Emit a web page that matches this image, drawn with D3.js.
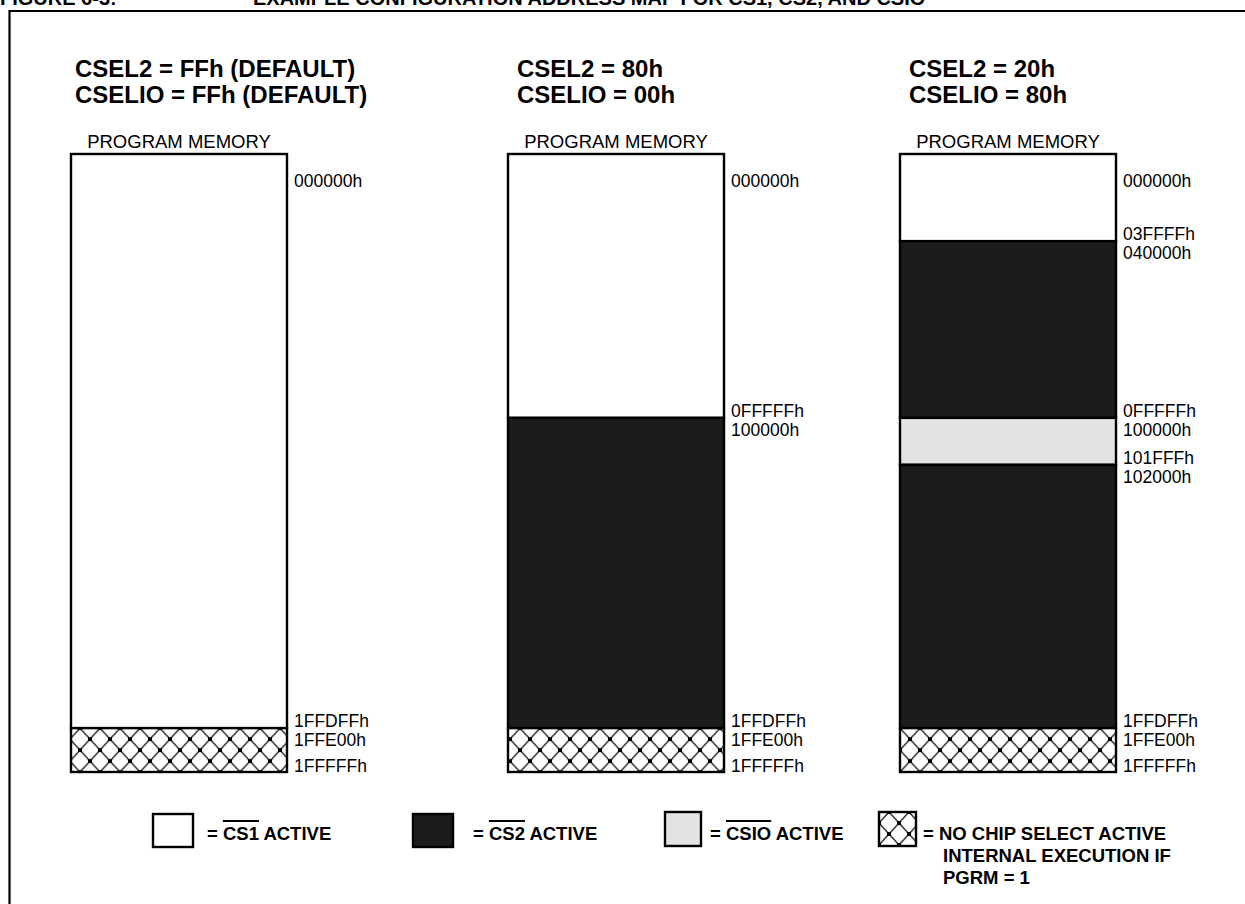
<!DOCTYPE html>
<html>
<head>
<meta charset="utf-8">
<script src="https://cdn.jsdelivr.net/npm/d3@7"></script>
<style>
  html, body { margin: 0; padding: 0; background: #fff; }
  svg { display: block; font-family: "Liberation Sans", Arial, sans-serif; }
</style>
</head>
<body>
<svg id="chart" width="1245" height="904"></svg>
<script>
// ---- data ----
var titleText = "FIGURE 6-3:";
var captionText = "EXAMPLE CONFIGURATION ADDRESS MAP FOR CS1, CS2, AND CSIO";

var headings = [
	["CSEL2 = FFh (DEFAULT)", "CSELIO = FFh (DEFAULT)"],
	["CSEL2 = 80h", "CSELIO = 00h"],
	["CSEL2 = 20h", "CSELIO = 80h"]
];

// address segments per column: [start, end (exclusive), chip select]
var mapDefault = [
	[0x000000, 0x1FFE00, "cs1"],
	[0x1FFE00, 0x200000, "none"]
];
var map80 = [
	[0x000000, 0x100000, "cs1"],
	[0x100000, 0x1FFE00, "cs2"],
	[0x1FFE00, 0x200000, "none"]
];
var map20 = [
	[0x000000, 0x040000, "cs1"],
	[0x040000, 0x100000, "cs2"],
	[0x100000, 0x102000, "csio"],
	[0x102000, 0x1FFE00, "cs2"],
	[0x1FFE00, 0x200000, "none"]
];
var columnMaps = [mapDefault, map80, map20];

var legendKeys = ["cs1", "cs2", "csio", "none"];
var legendSignals = ["CS1", "CS2", "CSIO", "NO CHIP SELECT ACTIVE"];
var legendExtra = [[], [], [], ["INTERNAL EXECUTION IF", "PGRM = 1"]];

// ---- layout ----
var colX = [71, 508, 900];
var headX = [75, 517, 909];
var boxW = 216;
var boxTop = 154, boxBottom = 772;

// memory map is not drawn to scale: break addresses -> relative position
var breakAddrs = [0x000000, 0x040000, 0x100000, 0x102000, 0x1FFE00, 0x200000];
var breakPos = [0, 0.141, 0.427, 0.503, 0.929, 1];

var fills = { cs1: "#ffffff", cs2: "#1c1c1c", csio: "#e3e3e3", none: "url(#hatch)" };

var svg = d3.select("#chart");

var addr = d3.scaleLinear().domain(breakAddrs).range(breakPos);
var y = d3.scaleLinear().domain([0, 1]).range([boxTop, boxBottom]);
var yAddr = function(a) { return y(addr(a)); };

var hex = function(a) { return ("000000" + a.toString(16).toUpperCase()).slice(-6) + "h"; };

var defs = svg.append("defs");

function makeHatch(id, px, py)
{
	var pat = defs.append("pattern")
		.attr("id", id)
		.attr("patternUnits", "userSpaceOnUse")
		.attr("x", px).attr("y", py)
		.attr("width", 20).attr("height", 22);
	pat.append("rect").attr("width", 20).attr("height", 22).attr("fill", "#fff");
	pat.append("path").attr("d", "M0,0L20,22M20,0L0,22")
		.attr("stroke", "#444").attr("stroke-width", 1.6).attr("fill", "none");
	[[0,0],[20,0],[0,22],[20,22],[10,11]].forEach(function(p)
	{
		pat.append("rect").attr("x", p[0] - 2).attr("y", p[1] - 2)
			.attr("width", 4).attr("height", 4).attr("fill", "#000");
	});
}
makeHatch("hatch", 0, yAddr(0x1FFE00));
makeHatch("hatchLeg", 879, 801);

// frame + cut title
svg.append("path").attr("d", "M9.5,904V11H1245")
	.attr("fill", "none").attr("stroke", "#000").attr("stroke-width", 2.2);
svg.append("text").attr("x", 0).attr("y", 5)
	.attr("font-size", 20).attr("font-weight", "bold").text(titleText);
svg.append("text").attr("x", 253).attr("y", 5)
	.attr("font-size", 20).attr("font-weight", "bold").text(captionText);

columnMaps.forEach(function(segs, ci)
{
	var x0 = colX[ci];
	var g = svg.append("g");

	g.selectAll("text.head")
		.data(headings[ci])
		.enter().append("text")
		.attr("class", "head")
		.attr("x", headX[ci])
		.attr("y", function(d, i) { return 77 + i * 26; })
		.attr("font-size", 24).attr("font-weight", "bold")
		.text(function(d) { return d; });

	g.append("text")
		.attr("x", x0 + boxW / 2).attr("y", 148)
		.attr("text-anchor", "middle").attr("font-size", 18.5)
		.text("PROGRAM MEMORY");

	g.selectAll("rect.seg")
		.data(segs)
		.enter().append("rect")
		.attr("class", "seg")
		.attr("x", x0)
		.attr("y", function(d) { return yAddr(d[0]); })
		.attr("width", boxW)
		.attr("height", function(d) { return yAddr(d[1]) - yAddr(d[0]); })
		.attr("fill", function(d) { return fills[d[2]]; })
		.attr("stroke", "#000").attr("stroke-width", 2.4);

	// address labels
	var labels = [{ t: hex(segs[0][0]), y: yAddr(segs[0][0]) + 33 }];
	for (var i = 1; i < segs.length; i++)
	{
		var b = yAddr(segs[i][0]);
		labels.push({ t: hex(segs[i][0] - 1), y: b - 1 });
		labels.push({ t: hex(segs[i][0]), y: b + 18 });
	}
	var last = segs[segs.length - 1][1];
	labels.push({ t: hex(last - 1), y: yAddr(last) });

	g.selectAll("text.addr")
		.data(labels)
		.enter().append("text")
		.attr("class", "addr")
		.attr("x", x0 + boxW + 7)
		.attr("y", function(d) { return d.y; })
		.attr("font-size", 17.5)
		.text(function(d) { return d.t; });
});

// legend
var legBox = [[153, 814, 40, 33], [413, 814, 40, 33], [665, 812, 36, 34], [879, 812, 37, 34]];
var legText = [207, 473, 710, 923];

legendKeys.forEach(function(k, i)
{
	var b = legBox[i];
	svg.append("rect")
		.attr("x", b[0]).attr("y", b[1]).attr("width", b[2]).attr("height", b[3])
		.attr("fill", k == "none" ? "url(#hatchLeg)" : fills[k])
		.attr("stroke", "#000").attr("stroke-width", 2.4);

	var t = svg.append("text")
		.attr("x", legText[i]).attr("y", 840)
		.attr("font-size", 18.5).attr("font-weight", "bold");
	if (k == "none")
	{
		t.text("= " + legendSignals[i]);
	}
	else
	{
		t.text("= " + legendSignals[i] + " ACTIVE");
		var node = t.node();
		var start = node.getStartPositionOfChar(2).x;
		var w = node.getSubStringLength(2, legendSignals[i].length);
		svg.append("line")
			.attr("x1", start).attr("x2", start + w)
			.attr("y1", 821).attr("y2", 821)
			.attr("stroke", "#000").attr("stroke-width", 1.8);
	}
	legendExtra[i].forEach(function(line, j)
	{
		svg.append("text")
			.attr("x", legText[i] + 20).attr("y", 862 + j * 21.5)
			.attr("font-size", 18.5).attr("font-weight", "bold")
			.text(line);
	});
});
</script>
</body>
</html>
